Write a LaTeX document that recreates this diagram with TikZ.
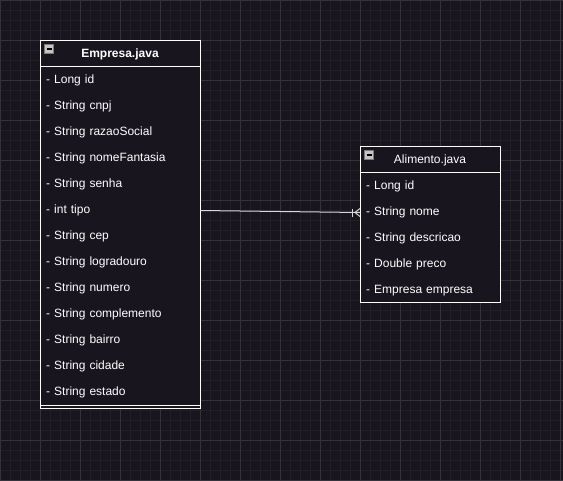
\documentclass[tikz,border=0pt]{standalone}
\usepackage{fontspec}
\setmainfont{Liberation Sans}
\definecolor{bg}{HTML}{18151F}
\definecolor{gminor}{HTML}{221F29}
\definecolor{gmajor}{HTML}{35323B}
\definecolor{icongray}{HTML}{C4C4C4}
\definecolor{iconedge}{HTML}{7A7A7A}
\begin{document}
\begin{tikzpicture}[x=1pt,y=-1pt,
  every node/.style={font=\fontsize{12}{14}\selectfont, text=white},
  row/.style={anchor=west, minimum width=#1, minimum height=26, inner xsep=6, inner ysep=0, text width=#1-12, align=left, yshift=-1.5},
  row/.default=160,
  head/.style={minimum width=#1, minimum height=26, inner sep=0, align=center, yshift=-1},
  box/.style={draw=white, line width=1, fill=bg},
  sep/.style={draw=white, line width=1},
  icon/.style={draw=iconedge, fill=icongray, line width=0.8},
  conn/.style={draw=white!85!black, line width=1}]
\useasboundingbox (0,0) rectangle (563,480);
\fill[bg] (0,0) rectangle (563,480);
\foreach \i in {0,10,...,560} \draw[gminor, line width=0.8] (\i,0) -- (\i,480);
\foreach \i in {0,10,...,480} \draw[gminor, line width=0.8] (0,\i) -- (563,\i);
\foreach \i in {0,40,...,560} \draw[gmajor, line width=1] (\i,0) -- (\i,480);
\foreach \i in {0,40,...,480} \draw[gmajor, line width=1] (0,\i) -- (563,\i);

% Empresa
\draw[box] (40,40) rectangle (200,408);
\draw[sep] (40,66) -- (200,66);
\draw[sep] (40,405) -- (200,405);
\node[head=160, font=\fontsize{12}{14}\selectfont\bfseries] (ehead) at (120,53) {Empresa.java};
\draw[icon] (44.5,44.5) rectangle (53.5,53.5);
\draw[black, line width=1.2] (46.5,49) -- (51.5,49);
\node[row] (eid) at (40,79) {- Long id};
\node[row] (ecnpj) at (40,105) {- String cnpj};
\node[row] (erazao) at (40,131) {- String razaoSocial};
\node[row] (enome) at (40,157) {- String nomeFantasia};
\node[row] (esenha) at (40,183) {- String senha};
\node[row] (etipo) at (40,209) {- int tipo};
\node[row] (ecep) at (40,235) {- String cep};
\node[row] (elog) at (40,261) {- String logradouro};
\node[row] (enum) at (40,287) {- String numero};
\node[row] (ecomp) at (40,313) {- String complemento};
\node[row] (ebairro) at (40,339) {- String bairro};
\node[row] (ecidade) at (40,365) {- String cidade};
\node[row] (eestado) at (40,391) {- String estado};

% Alimento
\draw[box] (360,146) rectangle (500,302);
\draw[sep] (360,172) -- (500,172);
\node[head=140] (ahead) at (430,159) {Alimento.java};
\draw[icon] (364.5,150.5) rectangle (373.5,159.5);
\draw[black, line width=1.2] (366.5,155) -- (371.5,155);
\node[row=140] (aid) at (360,185) {- Long id};
\node[row=140] (anome) at (360,211) {- String nome};
\node[row=140] (adesc) at (360,237) {- String descricao};
\node[row=140] (apreco) at (360,263) {- Double preco};
\node[row=140] (aemp) at (360,289) {- Empresa empresa};

% connector (one-to-many)
\draw[conn] (etipo.east) -- (anome.west);
\draw[conn] ([xshift=-5]anome.west) -- ([yshift=4]anome.west);
\draw[conn] ([xshift=-5]anome.west) -- ([yshift=-4]anome.west);
\draw[conn] ([xshift=-8,yshift=4]anome.west) -- ([xshift=-8,yshift=-4]anome.west);
\end{tikzpicture}
\end{document}
